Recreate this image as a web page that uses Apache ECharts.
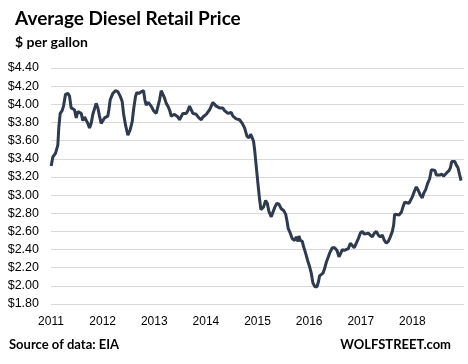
<!DOCTYPE html>
<html>
<head>
<meta charset="utf-8">
<script src="https://cdn.jsdelivr.net/npm/echarts@6/dist/echarts.min.js"></script>
<style>
html,body{margin:0;padding:0;background:#fff;}
#c{width:468px;height:364px;}
</style>
</head>
<body>
<div id="c"></div>
<script>
// Decimal-year dates
const years = [
2011.003,2011.036,2011.087,2011.132,2011.152,2011.178,2011.216,2011.242,2011.281,2011.326,
2011.359,2011.391,2011.423,2011.455,2011.488,2011.520,2011.552,2011.585,2011.617,2011.649,
2011.682,2011.714,2011.746,2011.778,2011.811,2011.875,2011.908,2011.940,2011.972,2012.005,
2012.037,2012.069,2012.101,2012.121,2012.147,2012.198,2012.250,2012.295,2012.340,2012.379,
2012.405,2012.444,2012.489,2012.534,2012.573,2012.599,2012.638,2012.663,2012.702,2012.728,
2012.754,2012.793,2012.818,2012.844,2012.883,2012.909,2012.941,2012.986,2013.038,2013.070,
2013.103,2013.135,2013.167,2013.199,2013.232,2013.264,2013.296,2013.329,2013.361,2013.393,
2013.425,2013.458,2013.490,2013.522,2013.554,2013.587,2013.619,2013.651,2013.684,2013.716,
2013.748,2013.813,2013.865,2013.910,2013.942,2013.975,2014.007,2014.039,2014.072,2014.104,
2014.136,2014.168,2014.201,2014.233,2014.265,2014.298,2014.330,2014.362,2014.395,2014.427,
2014.459,2014.491,2014.524,2014.556,2014.588,2014.621,2014.653,2014.705,2014.750,2014.795,
2014.834,2014.866,2014.899,2014.924,2014.944,2014.963,2014.989,2015.015,2015.041,2015.066,
2015.092,2015.118,2015.157,2015.189,2015.221,2015.267,2015.299,2015.338,2015.376,2015.415,
2015.460,2015.506,2015.545,2015.570,2015.596,2015.635,2015.674,2015.719,2015.751,2015.784,
2015.803,2015.829,2015.868,2015.893,2015.932,2015.971,2016.010,2016.042,2016.074,2016.113,
2016.152,2016.178,2016.203,2016.236,2016.268,2016.300,2016.333,2016.365,2016.397,2016.449,
2016.494,2016.540,2016.578,2016.604,2016.643,2016.682,2016.720,2016.759,2016.798,2016.836,
2016.875,2016.914,2016.953,2016.991,2017.030,2017.069,2017.107,2017.146,2017.185,2017.224,
2017.263,2017.302,2017.340,2017.379,2017.418,2017.457,2017.495,2017.534,2017.573,2017.612,
2017.637,2017.657,2017.689,2017.741,2017.786,2017.818,2017.851,2017.883,2017.935,2017.973,
2017.999,2018.038,2018.077,2018.116,2018.154,2018.193,2018.219,2018.258,2018.296,2018.335,
2018.368,2018.400,2018.439,2018.464,2018.497,2018.529,2018.568,2018.607,2018.645,2018.671,
2018.710,2018.736,2018.762,2018.787,2018.820,2018.852,2018.884,2018.917,2018.943
];
// Price in $ per gallon
const prices = [
3.32,3.42,3.46,3.55,3.75,3.90,3.93,3.98,4.11,4.12,
4.09,3.96,3.95,3.94,3.85,3.92,3.94,3.90,3.82,3.86,
3.84,3.79,3.74,3.79,3.89,4.01,3.96,3.87,3.79,3.79,
3.85,3.85,3.87,3.94,4.05,4.12,4.15,4.14,4.09,4.03,
3.90,3.77,3.66,3.72,3.81,3.94,4.09,4.13,4.12,4.10,
4.14,4.15,4.05,3.99,4.02,4.03,3.98,3.93,3.90,3.92,
4.05,4.15,4.14,4.07,4.01,3.98,3.94,3.87,3.85,3.89,
3.87,3.86,3.83,3.85,3.90,3.91,3.90,3.93,3.98,3.96,
3.90,3.89,3.85,3.83,3.86,3.87,3.89,3.88,3.94,3.98,
4.02,4.01,3.98,3.97,3.96,3.98,3.96,3.93,3.91,3.90,
3.92,3.91,3.87,3.85,3.84,3.82,3.83,3.79,3.74,3.65,
3.63,3.67,3.63,3.59,3.50,3.39,3.24,3.09,2.95,2.84,
2.83,2.87,2.94,2.91,2.82,2.76,2.81,2.87,2.91,2.90,
2.85,2.83,2.79,2.72,2.63,2.58,2.52,2.50,2.54,2.49,
2.55,2.50,2.49,2.43,2.36,2.28,2.21,2.14,2.03,1.99,
1.99,2.04,2.11,2.12,2.14,2.19,2.26,2.28,2.36,2.42,
2.42,2.39,2.32,2.35,2.40,2.39,2.38,2.41,2.47,2.47,
2.42,2.47,2.52,2.58,2.60,2.57,2.58,2.58,2.56,2.54,
2.58,2.60,2.56,2.54,2.56,2.50,2.47,2.49,2.54,2.60,
2.67,2.79,2.80,2.78,2.81,2.87,2.92,2.93,2.91,2.91,
2.98,3.04,3.09,3.05,3.00,2.97,3.02,3.06,3.13,3.18,
3.28,3.30,3.27,3.22,3.24,3.22,3.23,3.21,3.22,3.25,
3.27,3.30,3.37,3.39,3.37,3.33,3.30,3.22,3.16
];
const yearTicks = ['2011','2012','2013','2014','2015','2016','2017','2018'];

const data = years.map((y, i) => [y, prices[i]]);
const chart = echarts.init(document.getElementById('c'), null, {renderer: 'canvas'});
chart.setOption({
  backgroundColor: '#ffffff',
  animation: false,
  title: [
    {text: 'Average Diesel Retail Price', left: 10, top: 4,
     textStyle: {fontFamily: 'Lato', fontWeight: 'bold', fontSize: 19, color: '#000'}},
    {text: '$ per gallon', left: 10, top: 30,
     textStyle: {fontFamily: 'Lato', fontWeight: 'bold', fontSize: 14, color: '#000'}}
  ],
  graphic: [
    {type: 'text', left: 9, top: 338, style: {text: 'Source of data: EIA', font: 'bold 13px Lato', fill: '#000'}},
    {type: 'text', right: 17, top: 338, style: {text: 'WOLFSTREET.com', font: 'bold 13px Lato', fill: '#000'}}
  ],
  grid: {left: 51, right: 4, top: 68, bottom: 60},
  xAxis: {
    type: 'value', min: 2011, max: 2019, interval: 1,
    axisLine: {show: false}, axisTick: {show: false}, splitLine: {show: false},
    axisLabel: {
      margin: 12, fontFamily: 'Liberation Sans', fontSize: 12, color: '#000',
      formatter: v => { const s = String(Math.round(v)); return yearTicks.indexOf(s) >= 0 ? s : ''; }
    }
  },
  yAxis: {
    type: 'value', min: 1.8, max: 4.4, interval: 0.2,
    axisLine: {show: false}, axisTick: {show: false},
    splitLine: {lineStyle: {color: '#d9d9d9', width: 1}},
    axisLabel: {
      margin: 12, fontFamily: 'Liberation Sans', fontSize: 12.5, color: '#000',
      formatter: v => '$' + v.toFixed(2)
    }
  },
  series: [{
    type: 'line', data: data, showSymbol: false, smooth: false,
    lineStyle: {color: '#2e3a4e', width: 3}
  }]
});
</script>
</body>
</html>
